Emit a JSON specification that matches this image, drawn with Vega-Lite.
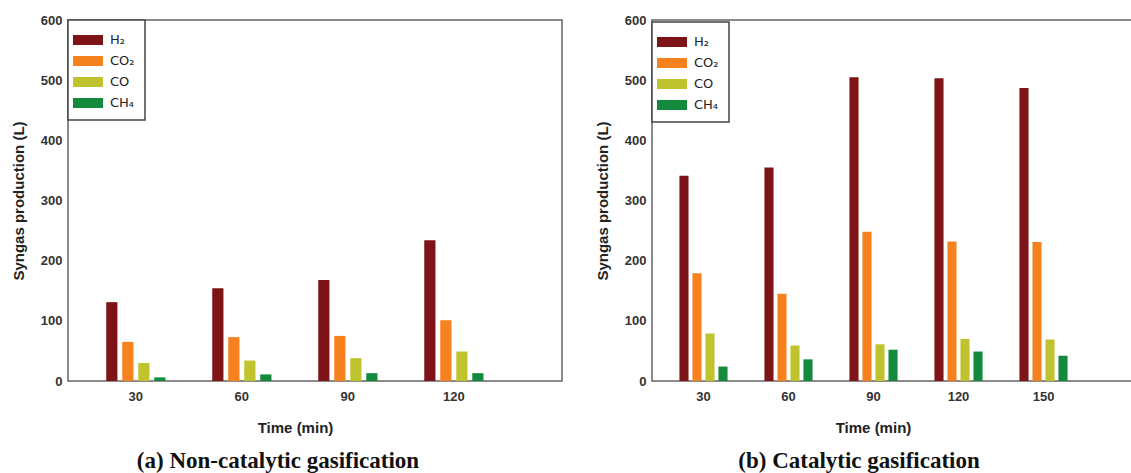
{
  "$schema": "https://vega.github.io/schema/vega-lite/v6.json",
  "background": "white",
  "padding": {"left": 10, "top": 13, "right": 0, "bottom": 0},
  "spacing": 31,
  "datasets": {
    "noncat": [
      {"time": 30, "gas": "H₂", "volume": 131}, {"time": 30, "gas": "CO₂", "volume": 65}, {"time": 30, "gas": "CO", "volume": 30}, {"time": 30, "gas": "CH₄", "volume": 6},
      {"time": 60, "gas": "H₂", "volume": 154}, {"time": 60, "gas": "CO₂", "volume": 73}, {"time": 60, "gas": "CO", "volume": 34}, {"time": 60, "gas": "CH₄", "volume": 11},
      {"time": 90, "gas": "H₂", "volume": 168}, {"time": 90, "gas": "CO₂", "volume": 75}, {"time": 90, "gas": "CO", "volume": 38}, {"time": 90, "gas": "CH₄", "volume": 13},
      {"time": 120, "gas": "H₂", "volume": 234}, {"time": 120, "gas": "CO₂", "volume": 101}, {"time": 120, "gas": "CO", "volume": 49}, {"time": 120, "gas": "CH₄", "volume": 13}
    ],
    "cat": [
      {"time": 30, "gas": "H₂", "volume": 341}, {"time": 30, "gas": "CO₂", "volume": 179}, {"time": 30, "gas": "CO", "volume": 79}, {"time": 30, "gas": "CH₄", "volume": 24},
      {"time": 60, "gas": "H₂", "volume": 355}, {"time": 60, "gas": "CO₂", "volume": 145}, {"time": 60, "gas": "CO", "volume": 59}, {"time": 60, "gas": "CH₄", "volume": 36},
      {"time": 90, "gas": "H₂", "volume": 505}, {"time": 90, "gas": "CO₂", "volume": 248}, {"time": 90, "gas": "CO", "volume": 61}, {"time": 90, "gas": "CH₄", "volume": 52},
      {"time": 120, "gas": "H₂", "volume": 503}, {"time": 120, "gas": "CO₂", "volume": 232}, {"time": 120, "gas": "CO", "volume": 70}, {"time": 120, "gas": "CH₄", "volume": 49},
      {"time": 150, "gas": "H₂", "volume": 487}, {"time": 150, "gas": "CO₂", "volume": 231}, {"time": 150, "gas": "CO", "volume": 69}, {"time": 150, "gas": "CH₄", "volume": 42}
    ]
  },
  "config": {
    "view": {"stroke": "#666", "strokeWidth": 1.5},
    "axis": {
      "labelFont": "Liberation Sans", "labelFontWeight": "bold", "labelFontSize": 13, "labelColor": "#333",
      "titleFont": "Liberation Sans", "titleFontWeight": "bold", "titleFontSize": 15, "titleColor": "#222",
      "ticks": false, "domain": false, "grid": false
    },
    "legend": {
      "labelFont": "DejaVu Sans", "labelFontSize": 13, "labelColor": "#222",
      "symbolType": "M-1.5,-0.5H1.5V0.5H-1.5Z", "symbolSize": 400, "symbolStrokeWidth": 0, "symbolOpacity": 1,
      "labelOffset": 12, "rowPadding": 4, "padding": 10, "strokeColor": "#444", "strokeWidth": 1.5, "fillColor": "white"
    },
    "title": {"font": "Liberation Serif", "fontSize": 23, "fontWeight": "bold", "color": "#111", "orient": "bottom", "offset": 15}
  },
  "hconcat": [
    {
      "width": 494, "height": 361,
      "data": {"name": "noncat"},
      "title": {"text": "(a) Non-catalytic gasification", "dx": -37},
      "mark": {"type": "bar"},
      "encoding": {
        "x": {"field": "time", "type": "ordinal",
              "scale": {"paddingInner": 0.396, "paddingOuter": 0.528, "align": 0.32},
              "axis": {"title": "Time (min)", "labelAngle": 0, "labelPadding": 9, "titlePadding": 17, "titleX": 227}},
        "xOffset": {"field": "gas", "type": "nominal", "sort": ["H₂", "CO₂", "CO", "CH₄"],
                    "scale": {"domain": ["H₂", "CO₂", "CO", "CH₄"], "paddingInner": 0.3, "paddingOuter": 0.15}},
        "y": {"field": "volume", "type": "quantitative", "scale": {"domain": [0, 600]},
              "axis": {"title": "Syngas production (L)", "values": [0, 100, 200, 300, 400, 500, 600], "labelPadding": 6, "titlePadding": 14}},
        "color": {"field": "gas", "type": "nominal", "sort": ["H₂", "CO₂", "CO", "CH₄"],
                  "scale": {"domain": ["H₂", "CO₂", "CO", "CH₄"], "range": ["#7e1418", "#f5821f", "#bfc32e", "#138a3e"]},
                  "legend": {"orient": "none", "legendX": 0, "legendY": 0, "title": null}}
      }
    },
    {
      "width": 500, "height": 361,
      "data": {"name": "cat"},
      "title": {"text": "(b) Catalytic gasification", "dx": -43},
      "mark": {"type": "bar"},
      "encoding": {
        "x": {"field": "time", "type": "ordinal",
              "scale": {"paddingInner": 0.388, "paddingOuter": 0.635, "align": 0.236},
              "axis": {"title": "Time (min)", "labelAngle": 0, "labelPadding": 9, "titlePadding": 17, "titleX": 221}},
        "xOffset": {"field": "gas", "type": "nominal", "sort": ["H₂", "CO₂", "CO", "CH₄"],
                    "scale": {"domain": ["H₂", "CO₂", "CO", "CH₄"], "paddingInner": 0.3, "paddingOuter": 0.15}},
        "y": {"field": "volume", "type": "quantitative", "scale": {"domain": [0, 600]},
              "axis": {"title": "Syngas production (L)", "values": [0, 100, 200, 300, 400, 500, 600], "labelPadding": 6, "titlePadding": 14}},
        "color": {"field": "gas", "type": "nominal", "sort": ["H₂", "CO₂", "CO", "CH₄"],
                  "scale": {"domain": ["H₂", "CO₂", "CO", "CH₄"], "range": ["#7e1418", "#f5821f", "#bfc32e", "#138a3e"]},
                  "legend": {"orient": "none", "legendX": 0, "legendY": 2, "title": null}}
      }
    }
  ],
  "resolve": {"scale": {"x": "independent", "y": "independent", "color": "independent", "xOffset": "independent"}, "legend": {"color": "independent"}}
}
